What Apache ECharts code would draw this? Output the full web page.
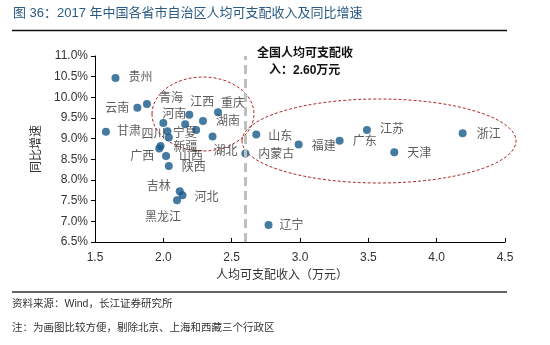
<!DOCTYPE html>
<html><head><meta charset="utf-8">
<script src="https://cdn.jsdelivr.net/npm/echarts@6/dist/echarts.min.js"></script>
<style>html,body{margin:0;padding:0;background:#fff}#c{width:550px;height:345px}</style>
</head><body><div id="c"></div>
<script>
// Data
const provinces = ['贵州','云南','青海','甘肃','河南','江西','安徽','湖南','重庆','海南','四川','宁夏','湖北','新疆','广西','山西','陕西','吉林','河北','黑龙江','辽宁','山东','内蒙古','福建','广东','江苏','天津','浙江'];
const income = [1.65,1.81,1.88,1.58,2.00,2.19,2.16,2.29,2.40,2.24,2.03,2.04,2.36,1.98,1.97,2.02,2.04,2.12,2.14,2.10,2.77,2.68,2.60,2.99,3.29,3.49,3.69,4.19];
const growth = [10.47,9.75,9.84,9.17,9.38,9.58,9.35,9.43,9.64,9.21,9.18,9.03,9.05,8.82,8.76,8.58,8.34,7.73,7.63,7.51,6.91,9.10,8.64,8.86,8.95,9.21,8.67,9.13];
const nationalIncome = 2.60;
const xTicks = {min:1.5, max:4.5, interval:0.5};
const yTicks = {min:6.5, max:11.0, interval:0.5};

// label offsets (style only): [dx, dy] from dot centre to label centre; null = no label
const labelOffsets = {
  '贵州':[25,0],'云南':[-20,1],'青海':[24,-5],'甘肃':[23,0],'河南':[11,-8],'江西':[13,-12],
  '安徽':null,'湖南':[25,1],'重庆':[15,-9],'海南':null,'四川':[-14,3],'宁夏':[16,-4],
  '湖北':[13,15],'新疆':[25,2],'广西':[-17,8],'山西':[25,1],'陕西':[25,2],'吉林':[-21,-4],
  '河北':[24,2],'黑龙江':[-14,17],'辽宁':[23,1],'山东':[24,2],'内蒙古':[31,1],'福建':[25,2],
  '广东':[25,1],'江苏':[25,0],'天津':[25,1],'浙江':[26,1]
};

const FONT = '"Liberation Sans", Arial, "Noto Sans CJK SC", sans-serif';
const data = provinces.map((p,i)=>({
  name:p, value:[income[i], growth[i]],
  label:{show: !!labelOffsets[p]}
}));

const chart = echarts.init(document.getElementById('c'), null, {renderer:'canvas'});
chart.setOption({
  backgroundColor:'#fff',
  animation:false,
  grid:{left:95, right:45, top:56, bottom:103},
  xAxis:{
    type:'value', min:xTicks.min, max:xTicks.max, interval:xTicks.interval,
    name:'人均可支配收入（万元）', nameLocation:'middle', nameGap:28,
    nameTextStyle:{color:'#333', fontSize:12, fontFamily:FONT, padding:[0,36,0,0]},
    axisLine:{show:true, lineStyle:{color:'#000', width:1}},
    axisTick:{show:true, inside:true, length:4, lineStyle:{color:'#000'}},
    axisLabel:{color:'#333', fontSize:12, fontFamily:FONT, margin:10, formatter:v=>v.toFixed(1)},
    splitLine:{show:false}
  },
  yAxis:{
    type:'value', min:yTicks.min, max:yTicks.max, interval:yTicks.interval,
    name:'同比增速', nameLocation:'middle', nameGap:48, nameRotate:90,
    nameTextStyle:{color:'#333', fontSize:12, fontFamily:FONT},
    axisLine:{show:true, lineStyle:{color:'#000', width:1}},
    axisTick:{show:true, length:4, lineStyle:{color:'#000'}},
    axisLabel:{color:'#333', fontSize:12, fontFamily:FONT, margin:7, formatter:v=>v.toFixed(1)+'%'},
    splitLine:{show:false}
  },
  series:[{
    type:'scatter', symbolSize:8,
    itemStyle:{color:'#17598A'},
    data:data,
    label:{show:true, position:'inside', formatter:'{b}', color:'#333', fontSize:12, fontFamily:FONT},
    labelLayout:function(params){
      const off = labelOffsets[provinces[params.dataIndex]] || [0,0];
      return {dx:off[0], dy:off[1], hideOverlap:false};
    },
    markLine:{
      silent:true, symbol:'none', label:{show:false},
      lineStyle:{color:'#BFBFBF', type:[9,5], width:3},
      data:[{xAxis:nationalIncome}]
    }
  }],
  graphic:[
    {type:'text', left:13, top:7, style:{text:'图 36：2017 年中国各省市自治区人均可支配收入及同比增速', fill:'#2B5B84', font:'13px '+FONT}},
    {type:'line', shape:{x1:12,y1:30.5,x2:507,y2:30.5}, style:{stroke:'#111', lineWidth:1.5}},
    {type:'text', left:257, top:48, style:{text:'全国人均可支配收', fill:'#111', font:'bold 12px '+FONT}},
    {type:'text', left:269, top:65, style:{text:'入：'+nationalIncome.toFixed(2)+'万元', fill:'#111', font:'bold 12px '+FONT}},
    {type:'ellipse', shape:{cx:203, cy:114, rx:51, ry:37}, style:{fill:'none', stroke:'#B02A2A', lineWidth:1, lineDash:[3,2]}},
    {type:'ellipse', shape:{cx:379, cy:141, rx:137, ry:42}, style:{fill:'none', stroke:'#B02A2A', lineWidth:1, lineDash:[3,2]}},
    {type:'line', shape:{x1:12,y1:292,x2:507,y2:292}, style:{stroke:'#333', lineWidth:1.5}},
    {type:'text', left:12, top:299, style:{text:'资料来源：Wind，长江证券研究所', fill:'#333', font:'10.5px '+FONT}},
    {type:'text', left:12, top:323, style:{text:'注：为画图比较方便，剔除北京、上海和西藏三个行政区', fill:'#333', font:'10.5px '+FONT}}
  ]
});
</script></body></html>
